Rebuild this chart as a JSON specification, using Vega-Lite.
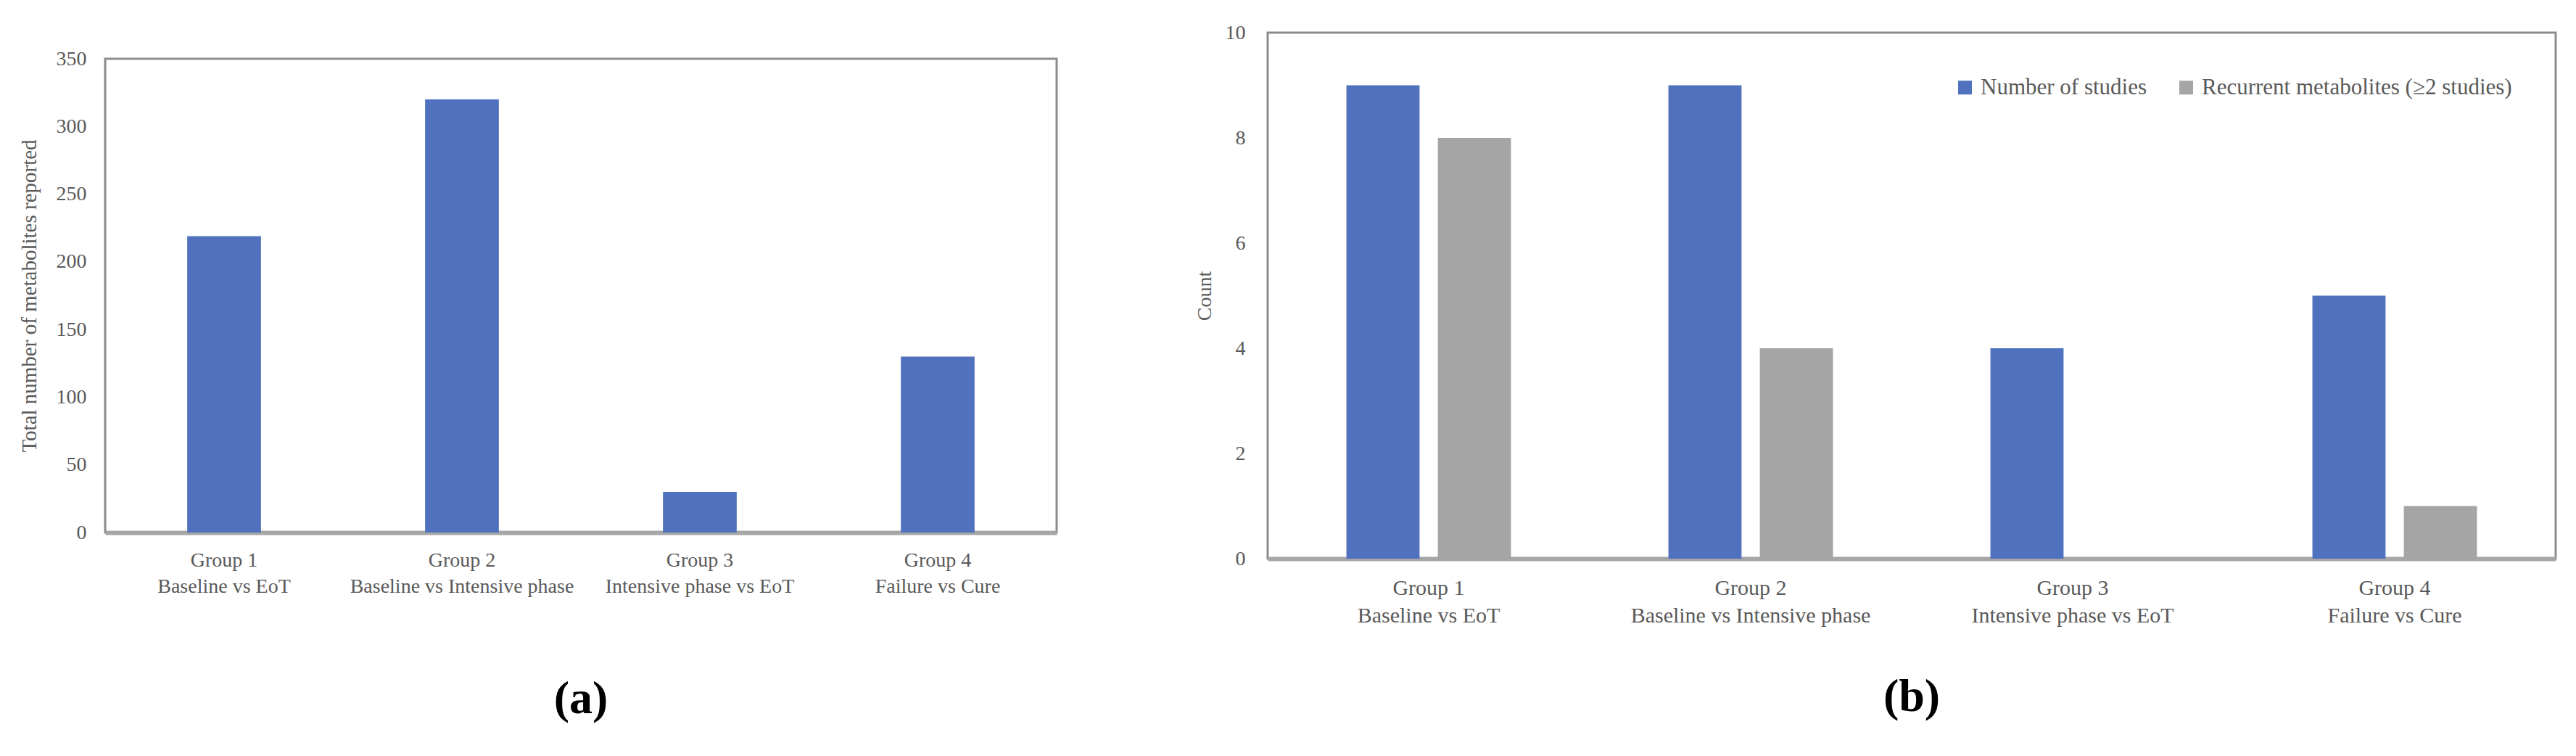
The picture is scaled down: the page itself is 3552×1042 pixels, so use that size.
{
  "$schema": "https://vega.github.io/schema/vega-lite/v6.json",
  "background": "white",
  "padding": {"left": 24, "top": 29, "right": 20, "bottom": 10},
  "config": {
    "font": "Liberation Serif",
    "view": {"stroke": "#8c8c8c", "strokeWidth": 3},
    "axis": {
      "grid": false,
      "ticks": false,
      "tickSize": 0,
      "labelLimit": 0,
      "labelFont": "Liberation Serif",
      "titleFont": "Liberation Serif",
      "labelColor": "#595959",
      "titleColor": "#595959",
      "titleFontWeight": "normal"
    },
    "legend": {"labelLimit": 0},
    "title": {"font": "Liberation Serif", "color": "black", "fontWeight": "bold", "fontSize": 64, "orient": "bottom", "anchor": "middle"}
  },
  "bounds": "flush",
  "center": true,
  "spacing": 291,
  "resolve": {"legend": {"color": "independent"}, "scale": {"color": "independent"}},
  "hconcat": [
    {
      "width": 1312,
      "height": 653,
      "title": {"text": "(a)", "offset": 110},
      "data": {
        "values": [
          {"group": "Group 1|Baseline vs EoT", "total": 219},
          {"group": "Group 2|Baseline vs Intensive phase", "total": 320},
          {"group": "Group 3|Intensive phase vs EoT", "total": 30},
          {"group": "Group 4|Failure vs Cure", "total": 130}
        ]
      },
      "mark": {"type": "bar", "color": "#4f71be"},
      "encoding": {
        "x": {
          "field": "group",
          "type": "nominal",
          "sort": null,
          "scale": {"paddingInner": 0.69, "paddingOuter": 0.345},
          "axis": {
            "title": null,
            "labelAngle": 0,
            "labelExpr": "split(datum.label, '|')",
            "labelFontSize": 28,
            "labelLineHeight": 36,
            "labelPadding": 24,
            "domainColor": "#a6a6a6",
            "domainWidth": 6
          }
        },
        "y": {
          "field": "total",
          "type": "quantitative",
          "scale": {"domain": [0, 350]},
          "axis": {
            "values": [0, 50, 100, 150, 200, 250, 300, 350],
            "title": "Total number of metabolites reported",
            "titleFontSize": 29,
            "titlePadding": 22,
            "labelFontSize": 28,
            "labelPadding": 26,
            "domain": false
          }
        }
      }
    },
    {
      "width": 1776,
      "height": 725,
      "title": {"text": "(b)", "offset": 66},
      "data": {
        "values": [
          {"group": "Group 1|Baseline vs EoT", "series": "Number of studies", "count": 9},
          {"group": "Group 1|Baseline vs EoT", "series": "Recurrent metabolites (≥2 studies)", "count": 8},
          {"group": "Group 2|Baseline vs Intensive phase", "series": "Number of studies", "count": 9},
          {"group": "Group 2|Baseline vs Intensive phase", "series": "Recurrent metabolites (≥2 studies)", "count": 4},
          {"group": "Group 3|Intensive phase vs EoT", "series": "Number of studies", "count": 4},
          {"group": "Group 3|Intensive phase vs EoT", "series": "Recurrent metabolites (≥2 studies)", "count": 0},
          {"group": "Group 4|Failure vs Cure", "series": "Number of studies", "count": 5},
          {"group": "Group 4|Failure vs Cure", "series": "Recurrent metabolites (≥2 studies)", "count": 1}
        ]
      },
      "mark": {"type": "bar"},
      "encoding": {
        "x": {
          "field": "group",
          "type": "nominal",
          "sort": null,
          "scale": {"paddingInner": 0.489, "paddingOuter": 0.2445},
          "axis": {
            "title": null,
            "labelAngle": 0,
            "labelExpr": "split(datum.label, '|')",
            "labelFontSize": 30,
            "labelLineHeight": 38,
            "labelPadding": 25,
            "domainColor": "#a6a6a6",
            "domainWidth": 6
          }
        },
        "xOffset": {
          "field": "series",
          "type": "nominal",
          "sort": ["Number of studies", "Recurrent metabolites (≥2 studies)"],
          "scale": {"paddingInner": 0.2, "paddingOuter": 0}
        },
        "y": {
          "field": "count",
          "type": "quantitative",
          "scale": {"domain": [0, 10]},
          "axis": {
            "values": [0, 2, 4, 6, 8, 10],
            "title": "Count",
            "titleFontSize": 28,
            "titlePadding": 14,
            "labelFontSize": 28,
            "labelPadding": 31,
            "domain": false
          }
        },
        "color": {
          "field": "series",
          "type": "nominal",
          "sort": ["Number of studies", "Recurrent metabolites (≥2 studies)"],
          "scale": {"range": ["#4f71be", "#a5a5a5"]},
          "legend": {
            "title": null,
            "orient": "top-right",
            "direction": "horizontal",
            "offset": 60,
            "symbolType": "square",
            "symbolSize": 361,
            "symbolStrokeWidth": 0,
            "labelFontSize": 31,
            "labelColor": "#595959",
            "labelFont": "Liberation Serif",
            "columnPadding": 38,
            "labelOffset": 6
          }
        }
      }
    }
  ]
}
